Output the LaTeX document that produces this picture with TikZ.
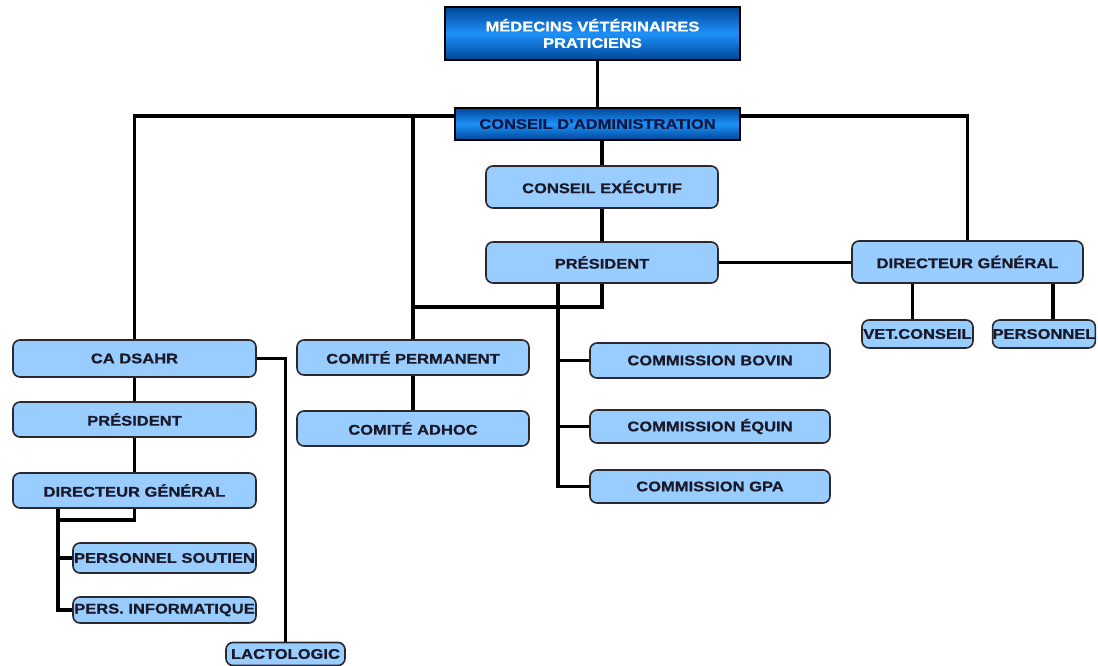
\documentclass[tikz,border=0pt]{standalone}
\usepackage{fontspec}
\setmainfont{Liberation Sans}[FakeStretch=1.18,BoldFeatures={FakeBold=0.8}]
\usepackage{tikz}
\usetikzlibrary{calc}

\definecolor{boxblue}{RGB}{153,204,255}
\definecolor{boxline}{RGB}{40,40,45}
\definecolor{deepblue}{RGB}{0,70,150}
\definecolor{brightblue}{RGB}{30,145,250}
\definecolor{navytext}{RGB}{12,25,70}
\definecolor{inktext}{RGB}{25,25,40}

\begin{document}
\begin{tikzpicture}[x=1pt,y=-1pt,
    unit/.style={draw=boxline,line width=1.6pt,fill=boxblue,rounded corners=7pt,
        inner sep=0pt,text=inktext,font=\fontsize{14}{16.5}\selectfont\bfseries},
    head/.style={draw=black,line width=1.8pt,top color=deepblue,bottom color=deepblue,
        middle color=brightblue,inner sep=0pt,font=\fontsize{14}{16.5}\selectfont\bfseries},
    link/.style={line width=3.2pt,black}]

\useasboundingbox (0,0) rectangle (1098,666);

\node[head,text=white,align=center,minimum width=295pt,minimum height=53pt] (top) at (592.5,33.5) {MÉDECINS VÉTÉRINAIRES\\PRATICIENS};
\node[head,text=navytext,minimum width=285pt,minimum height=32pt] (cadm) at (597.5,124) {CONSEIL D’ADMINISTRATION};

\node[unit,minimum width=232pt,minimum height=42pt] (cexec) at (602,187) {CONSEIL EXÉCUTIF};
\node[unit,minimum width=232pt,minimum height=41pt] (pres) at (602,262.5) {PRÉSIDENT};
\node[unit,minimum width=231pt,minimum height=42pt] (dgR) at (967.5,262) {DIRECTEUR GÉNÉRAL};
\node[unit,minimum width=111pt,minimum height=28pt] (vet) at (917.5,334) {VET.CONSEIL};
\node[unit,minimum width=102pt,minimum height=28pt] (pers) at (1044,334) {PERSONNEL};

\node[unit,minimum width=240pt,minimum height=35pt] (bovin) at (710,360.5) {COMMISSION BOVIN};
\node[unit,minimum width=240pt,minimum height=33pt] (equin) at (710,426.5) {COMMISSION ÉQUIN};
\node[unit,minimum width=240pt,minimum height=33pt] (gpa) at (710,486.5) {COMMISSION GPA};

\node[unit,minimum width=232pt,minimum height=35pt] (cperm) at (413,357.5) {COMITÉ PERMANENT};
\node[unit,minimum width=232pt,minimum height=35pt] (cadhoc) at (413,428.5) {COMITÉ ADHOC};

\node[unit,minimum width=243pt,minimum height=37pt] (cadsahr) at (134.5,358.5) {CA DSAHR};
\node[unit,minimum width=243pt,minimum height=35pt] (presL) at (134.5,419.5) {PRÉSIDENT};
\node[unit,minimum width=243pt,minimum height=35pt] (dgL) at (134.5,490.5) {DIRECTEUR GÉNÉRAL};
\node[unit,minimum width=183pt,minimum height=30pt] (soutien) at (164.5,558) {PERSONNEL SOUTIEN};
\node[unit,minimum width=183pt,minimum height=26pt] (info) at (164.5,610) {PERS. INFORMATIQUE};
\node[unit,minimum width=119pt,minimum height=23pt] (lacto) at (285.5,654) {LACTOLOGIC};

\coordinate (bus) at ([yshift=8pt]cadm.west);
\coordinate (busR) at ([yshift=8pt]cadm.east);
\coordinate (mid) at (0,307);
\coordinate (cx) at (558,300);
\coordinate (dlink) at (58,520);

% top of the tree
\draw[link] (top.south -| cadm.north) -- (cadm.north);
\draw[link] (bus) -| (cadsahr.north);
\draw[link] (busR) -| (dgR.north);
\draw[link] (cperm.north) -- (cperm.north |- bus);
\draw[link] (cexec.north) -- (cexec.north |- cadm.south);
\draw[link] (cexec.south) -- (pres.north);
\draw[link] (pres.east) -- (pres.east -| dgR.west);
\draw[link] ([xshift=-5pt]vet.north) -- ([xshift=-5pt]vet.north |- dgR.south);
\draw[link] ([xshift=9pt]pers.north) -- ([xshift=9pt]pers.north |- dgR.south);

% president branches
\draw[link] (pres.south) |- (cperm.north |- mid);
\draw[link] (gpa.west) -| (pres.south -| cx);
\draw[link] (bovin.west) -- (bovin.west -| cx);
\draw[link] (equin.west) -- (equin.west -| cx);
\draw[link] (cperm.south) -- (cadhoc.north);

% left column
\draw[link] (cadsahr.south) -- (presL.north);
\draw[link] (presL.south) -- (dgL.north);
\draw[link] (cadsahr.east) -| (lacto.north);
\draw[link] (dgL.south) |- (dlink);
\draw[link] (info.west) -| (dlink |- dgL.south);
\draw[link] (soutien.west) -- (soutien.west -| dlink);

\end{tikzpicture}
\end{document}
